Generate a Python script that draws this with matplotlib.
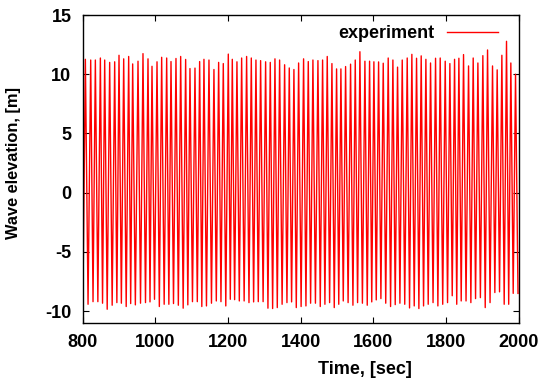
import matplotlib
matplotlib.use("Agg")
import matplotlib.pyplot as plt

plt.rcParams['font.family'] = ['Liberation Sans', 'DejaVu Sans']
plt.rcParams['font.weight'] = 'bold'
plt.rcParams['axes.unicode_minus'] = False

# Peak (crest) times [s] and elevations [m]
peak_t = [807.8, 822.5, 835.3, 849.1, 861.0, 874.7, 888.5, 900.4, 913.3, 927.0,
          938.0, 952.7, 966.4, 980.2, 991.2, 1005.0, 1017.8, 1031.6, 1043.5, 1057.2,
          1070.1, 1083.8, 1095.7, 1109.5, 1122.3, 1134.2, 1148.0, 1161.7, 1174.6, 1187.4,
          1201.2, 1212.2, 1225.0, 1237.9, 1251.6, 1264.5, 1277.3, 1290.1, 1303.9, 1316.7,
          1329.6, 1342.4, 1356.2, 1369.0, 1381.8, 1394.7, 1408.4, 1421.3, 1434.1, 1447.9,
          1460.7, 1473.5, 1486.4, 1499.2, 1511.1, 1524.0, 1537.7, 1550.6, 1563.4, 1577.2,
          1590.0, 1601.9, 1614.8, 1627.6, 1641.3, 1654.2, 1667.0, 1679.9, 1693.6, 1706.4,
          1719.3, 1732.1, 1745.0, 1757.8, 1771.6, 1784.4, 1798.2, 1811.0, 1823.9, 1835.8,
          1848.6, 1862.4, 1875.2, 1888.1, 1901.8, 1914.7, 1928.4, 1941.2, 1954.1, 1966.9,
          1978.8, 1991.7]
peak_v = [11.26, 11.2, 11.2, 11.37, 11.2, 11.0, 11.05, 11.6, 11.3, 11.5,
          10.87, 11.1, 11.74, 11.3, 10.67, 11.05, 11.43, 11.37, 11.07, 11.33,
          11.5, 11.25, 10.48, 10.52, 11.07, 11.26, 11.2, 10.4, 11.0, 10.9,
          11.7, 11.26, 11.05, 11.37, 11.5, 11.37, 11.2, 11.15, 11.05, 11.0,
          11.3, 11.2, 10.8, 10.53, 10.4, 10.95, 11.3, 11.07, 11.2, 11.15,
          11.2, 11.5, 10.9, 10.45, 10.45, 10.65, 10.85, 11.2, 11.9, 11.1,
          11.1, 11.05, 11.04, 10.93, 11.37, 11.2, 10.6, 11.2, 11.37, 11.68,
          11.35, 11.55, 11.26, 10.95, 11.35, 11.37, 11.1, 10.9, 11.26, 11.35,
          11.66, 10.7, 11.37, 10.95, 11.57, 12.05, 10.7, 10.37, 11.6, 12.78,
          10.95, 10.0]

# Trough times [s] and elevations [m]
trough_t = [801.0, 815.2, 828.9, 842.2, 855.1, 867.9, 881.6, 894.5, 906.9, 920.2,
            932.5, 945.4, 959.6, 973.3, 985.7, 998.1, 1011.4, 1024.7, 1037.6, 1050.4,
            1063.7, 1077.0, 1089.8, 1102.6, 1115.9, 1128.3, 1141.1, 1154.9, 1168.2, 1181.0,
            1194.3, 1206.7, 1218.6, 1231.5, 1244.8, 1258.1, 1270.9, 1283.7, 1297.0, 1310.3,
            1323.2, 1336.0, 1349.3, 1362.6, 1375.4, 1388.3, 1401.6, 1414.9, 1427.7, 1441.0,
            1454.3, 1467.1, 1480.0, 1492.8, 1505.2, 1517.6, 1530.9, 1544.2, 1557.0, 1570.3,
            1583.6, 1596.0, 1608.4, 1621.2, 1634.5, 1647.8, 1660.6, 1673.5, 1686.8, 1700.0,
            1712.9, 1725.7, 1738.6, 1751.4, 1764.7, 1778.0, 1791.3, 1804.6, 1817.5, 1829.9,
            1842.2, 1855.5, 1868.8, 1881.7, 1895.0, 1908.3, 1921.6, 1934.8, 1947.7, 1960.5,
            1972.9, 1985.3, 1998.5]
trough_v = [-9.56, -9.42, -9.2, -9.2, -9.33, -9.84, -9.5, -9.28, -9.33, -9.61,
            -9.36, -9.47, -9.33, -9.28, -9.22, -9.0, -9.61, -9.42, -9.42, -9.36,
            -9.5, -9.75, -9.47, -9.2, -9.2, -9.61, -9.56, -9.33, -9.14, -9.2,
            -9.56, -9.0, -9.03, -9.14, -9.14, -9.28, -9.22, -9.2, -9.2, -9.75,
            -9.78, -9.7, -9.42, -9.28, -9.22, -9.7, -9.61, -9.56, -9.33, -9.33,
            -9.61, -9.42, -9.28, -9.7, -9.42, -9.14, -9.28, -9.5, -9.28, -9.33,
            -9.5, -9.22, -9.05, -8.94, -9.33, -9.61, -9.45, -9.33, -9.42, -9.73,
            -9.56, -9.78, -9.56, -9.42, -9.28, -9.56, -9.42, -9.28, -8.7, -9.42,
            -9.14, -9.14, -9.28, -8.94, -8.86, -9.7, -9.28, -8.43, -8.37, -9.42,
            -9.42, -8.5, -8.5]

x_ticks = [800, 1000, 1200, 1400, 1600, 1800, 2000]
y_ticks = [-10, -5, 0, 5, 10, 15]

# interleave troughs and peaks into one time series
t = []
v = []
for i in range(len(peak_t)):
    t += [trough_t[i], peak_t[i]]
    v += [trough_v[i], peak_v[i]]
t.append(trough_t[-1])
v.append(trough_v[-1])

fig = plt.figure(figsize=(5.44, 3.83), dpi=100)
ax = fig.add_axes([0.1517, 0.1567, 0.8015, 0.8041])
ax.plot(t, v, color='#ff0000', lw=1.0, label='experiment')
ax.set_xlim(800, 2000)
ax.set_ylim(-11, 15)
ax.set_xticks(x_ticks)
ax.set_yticks(y_ticks)
ax.tick_params(direction='in', length=4.5, width=0.8, top=True, right=True,
               labelsize=13, pad=8)
for lab in ax.get_xticklabels() + ax.get_yticklabels():
    lab.set_fontweight('bold')
for s in ax.spines.values():
    s.set_linewidth(1.0)

ax.set_xlabel('Time, [sec]', fontsize=13, fontweight='bold')
ax.xaxis.set_label_coords(0.647, -0.125)
ax.set_ylabel('Wave elevation, [m]', fontsize=11.8, fontweight='bold')
ax.yaxis.set_label_coords(-0.141, 0.518)

leg = ax.legend(loc='upper right', bbox_to_anchor=(0.99, 1.02), frameon=False,
                markerfirst=False, handlelength=2.8, handletextpad=0.7,
                prop={'weight': 'bold', 'size': 13})

fig.savefig('out.png', dpi=100)
